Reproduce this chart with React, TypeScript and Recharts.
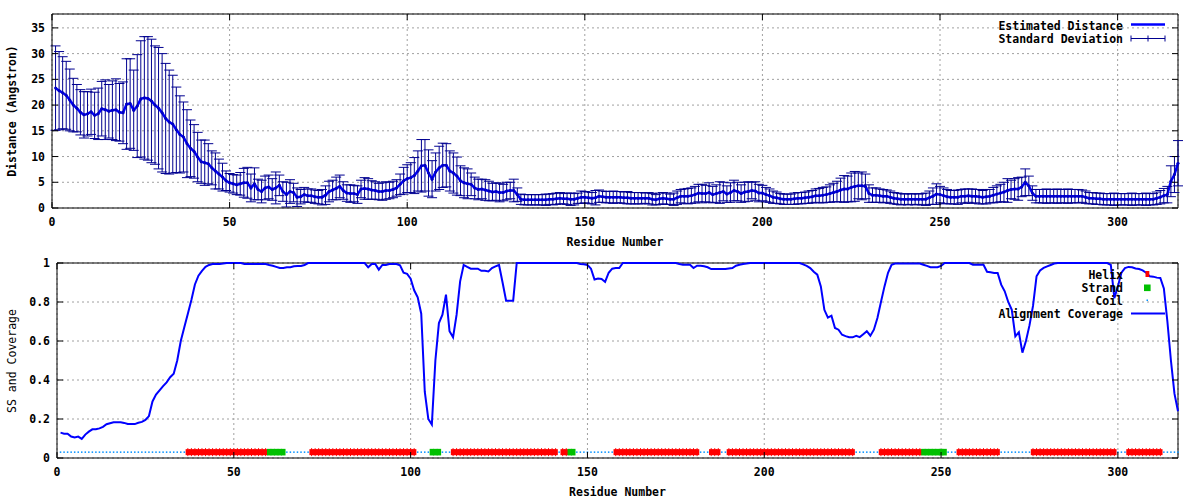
import React from "react";
import {
  ComposedChart,
  Line,
  Scatter,
  XAxis,
  YAxis,
  CartesianGrid,
  ErrorBar,
  ReferenceLine,
} from "recharts";

// per-residue estimated distance (Angstrom), residues 1..317
const distances = [
  23.3, 22.8, 22.4, 21.9, 21.0, 20.0, 19.4, 18.6, 18.1, 18.3,
  18.7, 18.0, 18.3, 19.3, 19.1, 18.8, 19.0, 19.1, 18.6, 18.5,
  20.2, 20.3, 19.0, 19.8, 21.2, 21.4, 21.3, 20.8, 20.0, 19.4,
  18.5, 17.4, 16.7, 16.3, 15.2, 14.3, 13.8, 12.5, 11.6, 11.0,
  9.9, 9.0, 8.8, 8.6, 7.8, 7.2, 6.6, 6.0, 5.3, 4.9,
  4.7, 4.5, 4.7, 4.9, 4.9, 3.9, 4.7, 3.6, 3.2, 3.9,
  4.1, 3.6, 3.9, 4.4, 3.2, 2.6, 3.2, 3.0, 2.1, 2.2,
  2.6, 2.4, 2.4, 2.2, 2.1, 2.1, 2.5, 3.2, 3.5, 3.8,
  4.2, 3.4, 2.9, 2.8, 2.8, 2.6, 3.7, 3.8, 3.7, 3.5,
  3.4, 3.2, 3.2, 3.4, 3.4, 3.6, 3.9, 4.6, 5.3, 5.7,
  5.9, 6.3, 7.2, 8.2, 8.3, 6.8, 5.6, 7.0, 7.8, 8.3,
  8.3, 7.2, 6.8, 6.2, 5.3, 4.9, 4.7, 4.6, 3.9, 3.6,
  3.7, 3.5, 3.3, 3.1, 3.2, 3.0, 3.0, 3.3, 3.4, 3.4,
  2.6, 1.7, 1.6, 1.6, 1.6, 1.6, 1.6, 1.6, 1.6, 1.7,
  1.7, 1.8, 1.9, 1.8, 1.8, 1.7, 1.7, 1.9, 2.1, 2.1,
  2.0, 1.9, 2.0, 2.3, 2.2, 2.1, 2.1, 2.1, 2.1, 2.1,
  2.0, 2.0, 1.9, 1.9, 1.9, 1.9, 1.9, 1.9, 1.7, 1.6,
  1.8, 1.9, 1.8, 1.7, 1.7, 2.0, 2.3, 2.3, 2.3, 2.4,
  2.6, 2.9, 2.8, 2.8, 3.0, 2.6, 2.8, 3.0, 3.2, 2.7,
  3.0, 3.4, 3.2, 2.8, 3.1, 3.2, 3.4, 3.3, 2.9, 2.9,
  2.6, 2.4, 2.1, 2.0, 1.8, 1.7, 1.7, 1.7, 1.8, 1.9,
  1.9, 2.0, 2.1, 2.2, 2.4, 2.4, 2.5, 2.6, 2.8, 3.0,
  3.2, 3.5, 3.7, 3.7, 4.0, 4.2, 4.3, 4.3, 4.2, 2.8,
  2.5, 2.5, 2.4, 2.3, 2.3, 2.1, 1.9, 1.8, 1.7, 1.7,
  1.7, 1.7, 1.7, 1.7, 1.7, 1.7, 2.0, 2.3, 2.7, 2.6,
  2.4, 2.2, 2.1, 2.1, 2.1, 2.3, 2.3, 2.4, 2.3, 2.3,
  2.2, 2.1, 2.2, 2.3, 2.5, 2.7, 2.9, 3.1, 3.4, 3.6,
  3.7, 3.7, 4.1, 5.0, 4.3, 2.9, 2.3, 2.3, 2.3, 2.3,
  2.3, 2.3, 2.3, 2.3, 2.3, 2.3, 2.3, 2.3, 2.3, 2.3,
  2.1, 1.9, 1.9, 1.8, 1.8, 1.7, 1.7, 1.7, 1.7, 1.7,
  1.7, 1.7, 1.7, 1.7, 1.7, 1.7, 1.7, 1.7, 1.7, 1.7,
  1.9, 2.1, 2.4, 2.6, 5.2, 6.5, 8.7,
];

const stdDevs = [
  8.2, 7.6, 7.0, 6.6, 6.0, 5.2, 4.6, 4.4, 4.5, 4.3,
  4.4, 4.5, 5.0, 5.3, 5.8, 5.2, 5.7, 6.0, 5.6, 6.0,
  8.8, 8.7, 7.8, 10.0, 11.3, 11.9, 12.0, 12.0, 11.5, 11.8,
  11.5, 10.7, 10.1, 9.5, 8.3, 7.5, 6.8, 6.6, 5.5, 5.2,
  4.8, 4.2, 4.4, 3.9, 3.3, 3.5, 2.9, 2.7, 1.9, 1.8,
  1.8, 1.9, 2.2, 2.8, 3.0, 2.7, 3.1, 2.0, 2.2, 2.3,
  2.3, 2.1, 3.1, 2.0, 1.9, 2.4, 2.3, 1.8, 1.8, 1.4,
  1.4, 1.3, 1.3, 1.3, 1.3, 1.5, 1.8, 2.0, 1.9, 2.2,
  2.2, 1.7, 1.6, 1.7, 1.6, 1.7, 1.7, 2.1, 2.0, 1.8,
  1.7, 1.6, 1.7, 1.7, 1.6, 1.6, 1.6, 2.0, 2.6, 2.7,
  2.9, 3.5, 3.9, 5.1, 5.0, 4.5, 3.6, 3.7, 4.2, 4.3,
  4.2, 3.9, 3.9, 3.7, 2.9, 2.9, 2.9, 2.2, 2.1, 2.0,
  1.9, 2.0, 1.9, 1.7, 1.7, 1.8, 1.6, 1.7, 1.6, 2.2,
  1.3, 1.0, 1.0, 1.0, 1.0, 1.0, 1.0, 1.0, 1.1, 1.0,
  1.1, 1.1, 1.1, 1.0, 1.1, 1.2, 1.1, 1.0, 1.2, 1.1,
  1.1, 1.1, 1.4, 1.2, 1.1, 1.1, 1.1, 1.2, 1.1, 1.1,
  1.1, 1.2, 1.1, 1.1, 1.1, 1.1, 1.0, 1.1, 1.1, 1.0,
  1.1, 1.1, 1.1, 1.0, 1.2, 1.3, 1.3, 1.4, 1.5, 1.5,
  1.6, 1.7, 1.8, 1.6, 1.9, 1.6, 1.7, 2.1, 1.8, 1.6,
  1.9, 2.0, 1.8, 1.7, 1.9, 1.9, 1.6, 1.8, 1.7, 1.5,
  1.4, 1.3, 1.2, 1.1, 1.0, 1.0, 1.0, 1.0, 1.1, 1.1,
  1.1, 1.1, 1.2, 1.2, 1.3, 1.4, 1.5, 1.5, 1.7, 1.8,
  2.0, 2.3, 2.6, 2.5, 2.8, 2.9, 2.5, 2.7, 2.4, 1.7,
  1.4, 1.4, 1.3, 1.3, 1.2, 1.2, 1.1, 1.1, 1.1, 1.0,
  1.1, 1.0, 1.1, 1.0, 1.1, 1.2, 1.3, 1.6, 2.0, 1.6,
  1.5, 1.4, 1.3, 1.3, 1.4, 1.3, 1.4, 1.3, 1.4, 1.3,
  1.4, 1.3, 1.4, 1.3, 1.5, 1.6, 1.7, 1.9, 2.3, 1.8,
  2.0, 2.2, 1.9, 2.6, 1.9, 1.4, 1.3, 1.3, 1.3, 1.4,
  1.3, 1.3, 1.4, 1.3, 1.3, 1.4, 1.3, 1.3, 1.3, 1.2,
  1.2, 1.1, 1.1, 1.1, 1.1, 1.1, 1.1, 1.1, 1.2, 1.1,
  1.1, 1.1, 1.1, 1.2, 1.1, 1.1, 1.1, 1.2, 1.1, 1.1,
  1.2, 1.3, 1.4, 1.6, 3.0, 3.5, 4.4,
];

// alignment coverage per residue
const coverage = [
  0.13, 0.125, 0.125, 0.11, 0.105, 0.11, 0.098, 0.12, 0.135, 0.147,
  0.147, 0.152, 0.16, 0.173, 0.178, 0.183, 0.183, 0.183, 0.18, 0.174,
  0.174, 0.174, 0.181, 0.185, 0.195, 0.215, 0.29, 0.325, 0.347, 0.369,
  0.388, 0.414, 0.432, 0.5, 0.6, 0.67, 0.74, 0.81, 0.89, 0.935,
  0.96, 0.98, 0.99, 0.995, 0.995, 0.995, 0.997, 1, 1, 1,
  1, 1, 0.995, 0.995, 0.995, 0.995, 0.995, 0.995, 0.995, 0.99,
  0.986, 0.98, 0.974, 0.974, 0.978, 0.978, 0.983, 0.985, 0.985, 0.99,
  1, 1, 1, 1, 1, 1, 1, 1, 1, 1,
  1, 1, 1, 1, 1, 1, 1, 0.978, 0.995, 0.995,
  0.966, 0.99, 0.99, 0.995, 0.995, 0.995, 0.988, 0.95, 0.944, 0.92,
  0.86, 0.824, 0.74, 0.34, 0.2, 0.171, 0.5, 0.692, 0.735, 0.838,
  0.65, 0.619, 0.735, 0.906, 0.99, 0.98, 0.971, 0.971, 0.971, 0.96,
  0.96, 0.957, 0.974, 0.983, 0.99, 0.9, 0.807, 0.807, 0.807, 1,
  1, 1, 1, 1, 1, 1, 1, 1, 1, 1,
  1, 1, 1, 1, 1, 1, 1, 0.995, 0.993, 0.99,
  0.971, 0.915, 0.92, 0.918, 0.903, 0.95, 0.971, 0.974, 0.974, 1,
  1, 1, 1, 1, 1, 1, 1, 1, 1, 1,
  1, 1, 1, 1, 1, 0.995, 0.991, 0.991, 0.991, 0.974,
  0.986, 0.986, 0.983, 0.978, 0.969, 0.969, 0.969, 0.969, 0.969, 0.972,
  0.974, 0.986, 0.991, 0.995, 0.997, 1, 1, 1, 1, 1,
  1, 1, 1, 1, 1, 1, 1, 1, 1, 1,
  0.993, 0.985, 0.974, 0.955, 0.94, 0.88, 0.76, 0.72, 0.73, 0.667,
  0.658, 0.632, 0.625, 0.619, 0.619, 0.627, 0.62, 0.635, 0.65, 0.627,
  0.658, 0.718, 0.8, 0.88, 0.95, 0.991, 0.997, 0.997, 0.997, 0.997,
  0.997, 0.997, 0.997, 0.997, 0.991, 0.985, 0.978, 0.978, 0.978, 0.985,
  1, 1, 1, 1, 1, 1, 1, 1, 0.991, 0.991,
  0.991, 0.991, 0.955, 0.952, 0.949, 0.949, 0.889, 0.855, 0.8, 0.76,
  0.624, 0.645, 0.54, 0.6, 0.68, 0.78, 0.932, 0.962, 0.975, 0.983,
  0.99, 0.997, 1, 1, 1, 1, 1, 1, 1, 1,
  1, 1, 1, 1, 1, 1, 1, 0.99, 0.82, 0.88,
  0.95, 0.974, 0.98, 0.978, 0.972, 0.969, 0.962, 0.95, 0.932, 0.93,
  0.925, 0.923, 0.87, 0.7, 0.5, 0.33, 0.24,
];

// secondary structure runs: [type, first residue, last residue]
const ssRuns: [string, number, number][] = [
  ["C", 1, 36], ["H", 37, 59], ["E", 60, 64], ["C", 65, 71],
  ["H", 72, 101], ["C", 102, 105], ["E", 106, 108], ["C", 109, 111],
  ["H", 112, 141], ["C", 142, 142], ["H", 143, 144], ["E", 145, 146],
  ["C", 147, 157], ["H", 158, 181], ["C", 182, 184], ["H", 185, 187],
  ["C", 188, 189], ["H", 190, 225], ["C", 226, 232], ["H", 233, 244],
  ["E", 245, 251], ["C", 252, 254], ["H", 255, 266], ["C", 267, 275],
  ["H", 276, 299], ["C", 300, 302], ["H", 303, 312], ["C", 313, 317],
];
const ssLevel = 0.03;

const xTicks = [0, 50, 100, 150, 200, 250, 300];
const distTicks = [0, 5, 10, 15, 20, 25, 30, 35];
const covTicks = [0, 0.2, 0.4, 0.6, 0.8, 1];

const ssAt = (res: number) => {
  const run = ssRuns.find((r) => res >= r[1] && res <= r[2]);
  return run ? run[0] : "C";
};

const topData = distances.map((d, i) => ({ res: i + 1, dist: d, sd: stdDevs[i] }));
const bottomData = coverage.map((c, i) => ({
  res: i + 1,
  cov: c,
  ssY: ssLevel,
  ss: ssAt(i + 1),
}));

const font = {
  fontFamily: "'DejaVu Sans Mono', monospace",
  fontWeight: "bold" as const,
  fontSize: 11.5,
  fill: "#000",
};

const PLOT_RIGHT = 1178;

function XTick(props: any) {
  const { x, y, payload, plotTop } = props;
  return (
    <g>
      <line x1={x} x2={x} y1={y} y2={y - 6} stroke="#000" />
      <line x1={x} x2={x} y1={plotTop} y2={plotTop + 6} stroke="#000" />
      <text x={x} y={y + 18} textAnchor="middle" style={font}>
        {payload.value}
      </text>
    </g>
  );
}

function YTick(props: any) {
  const { x, y, payload } = props;
  return (
    <g>
      <line x1={x} x2={x + 6} y1={y} y2={y} stroke="#000" />
      <line x1={PLOT_RIGHT} x2={PLOT_RIGHT - 6} y1={y} y2={y} stroke="#000" />
      <text x={x - 7} y={y + 4} textAnchor="end" style={font}>
        {payload.value}
      </text>
    </g>
  );
}

function YLabel({ text, bold }: { text: string; bold: boolean }) {
  return (
    <text
      x={12}
      y={111}
      transform="rotate(-90 12 111)"
      textAnchor="middle"
      dominantBaseline="central"
      style={{ ...font, fontWeight: bold ? "bold" : "normal" }}
    >
      {text}
    </text>
  );
}

function SsMark(props: any) {
  const { cx, cy, payload } = props;
  if (cx == null || cy == null) return <g />;
  if (payload.ss === "H") {
    return (
      <g>
        <rect x={cx - 2.2} y={cy - 3} width={4.4} height={6} fill="#ff0000" />
        <line x1={cx} x2={cx} y1={cy - 4} y2={cy + 4} stroke="#ff0000" />
      </g>
    );
  }
  if (payload.ss === "E") {
    return <rect x={cx - 2.2} y={cy - 3.3} width={4.4} height={6.6} fill="#00c000" />;
  }
  return <rect x={cx - 0.75} y={cy - 0.75} width={1.5} height={1.5} fill="#0090ff" />;
}

function Legends() {
  const t = { ...font };
  return (
    <svg
      width={1200}
      height={500}
      style={{ position: "absolute", left: 0, top: 0, pointerEvents: "none" }}
    >
      <text x={1123} y={30} textAnchor="end" style={t}>Estimated Distance</text>
      <line x1={1131} x2={1165} y1={24.5} y2={24.5} stroke="#0000ff" strokeWidth={2.5} />
      <text x={1123} y={43} textAnchor="end" style={t}>Standard Deviation</text>
      <line x1={1131} x2={1165} y1={38.5} y2={38.5} stroke="#000090" />
      <line x1={1131} x2={1131} y1={35.5} y2={41.5} stroke="#000090" />
      <line x1={1148} x2={1148} y1={35.5} y2={41.5} stroke="#000090" />
      <line x1={1165} x2={1165} y1={35.5} y2={41.5} stroke="#000090" />

      <text x={1123} y={279} textAnchor="end" style={t}>Helix</text>
      <rect x={1145.5} y={271} width={3.8} height={6} fill="#ff0000" />
      <text x={1123} y={292} textAnchor="end" style={t}>Strand</text>
      <rect x={1144} y={284.5} width={6.6} height={6.6} fill="#00c000" />
      <text x={1123} y={305} textAnchor="end" style={t}>Coil</text>
      <rect x={1146.5} y={299.5} width={1.5} height={1.5} fill="#0090ff" />
      <text x={1123} y={318} textAnchor="end" style={t}>Alignment Coverage</text>
      <line x1={1131} x2={1165} y1={313.5} y2={313.5} stroke="#0000ff" strokeWidth={2} />
    </svg>
  );
}

export default function App() {
  return (
    <div style={{ position: "absolute", left: 0, top: 0, width: 1200, height: 500, background: "#fff" }}>
      <ComposedChart
        width={1200}
        height={250}
        data={topData}
        margin={{ top: 14, right: 1200 - PLOT_RIGHT, bottom: 0, left: 0 }}
      >
        <CartesianGrid stroke="#a0a0a0" strokeDasharray="2 3" />
        <XAxis
          dataKey="res"
          type="number"
          domain={[0, 317]}
          ticks={xTicks}
          height={42}
          tickSize={0}
          tickMargin={0}
          tickLine={false}
          axisLine={{ stroke: "#000" }}
          tick={<XTick plotTop={14} />}
          label={{ value: "Residue Number", position: "insideBottom", offset: 4, style: font }}
        />
        <YAxis
          type="number"
          domain={[0, 37.7]}
          allowDataOverflow
          ticks={distTicks}
          width={52}
          tickSize={0}
          tickMargin={0}
          tickLine={false}
          axisLine={{ stroke: "#000" }}
          tick={<YTick />}
          label={<YLabel text="Distance (Angstron)" bold />}
        />
        <ReferenceLine y={37.7} stroke="#000" />
        <ReferenceLine x={317} stroke="#000" />
        <Line
          dataKey="dist"
          type="linear"
          stroke="#0000ff"
          strokeWidth={2.5}
          dot={false}
          isAnimationActive={false}
        />
        <Line
          dataKey="dist"
          stroke="none"
          dot={{ r: 1.5, fill: "#0000c0", stroke: "none" }}
          isAnimationActive={false}
        >
          <ErrorBar dataKey="sd" width={5} stroke="#000090" strokeWidth={1} direction="y" />
        </Line>
      </ComposedChart>

      <ComposedChart
        width={1200}
        height={250}
        data={bottomData}
        margin={{ top: 13, right: 1200 - PLOT_RIGHT, bottom: 0, left: 0 }}
      >
        <CartesianGrid stroke="#a0a0a0" strokeDasharray="2 3" />
        <XAxis
          dataKey="res"
          type="number"
          domain={[0, 317]}
          ticks={xTicks}
          height={42}
          tickSize={0}
          tickMargin={0}
          tickLine={false}
          axisLine={{ stroke: "#000" }}
          tick={<XTick plotTop={13} />}
          label={{ value: "Residue Number", position: "insideBottom", offset: 4, style: font }}
        />
        <YAxis
          type="number"
          domain={[0, 1]}
          ticks={covTicks}
          width={57}
          tickSize={0}
          tickMargin={0}
          tickLine={false}
          axisLine={{ stroke: "#000" }}
          tick={<YTick />}
          label={<YLabel text="SS and Coverage" bold={false} />}
        />
        <ReferenceLine y={1} stroke="#000" />
        <ReferenceLine x={317} stroke="#000" />
        <Scatter dataKey="ssY" shape={<SsMark />} isAnimationActive={false} />
        <Line
          dataKey="cov"
          type="linear"
          stroke="#0000ff"
          strokeWidth={2}
          dot={false}
          isAnimationActive={false}
        />
      </ComposedChart>
      <Legends />
    </div>
  );
}
